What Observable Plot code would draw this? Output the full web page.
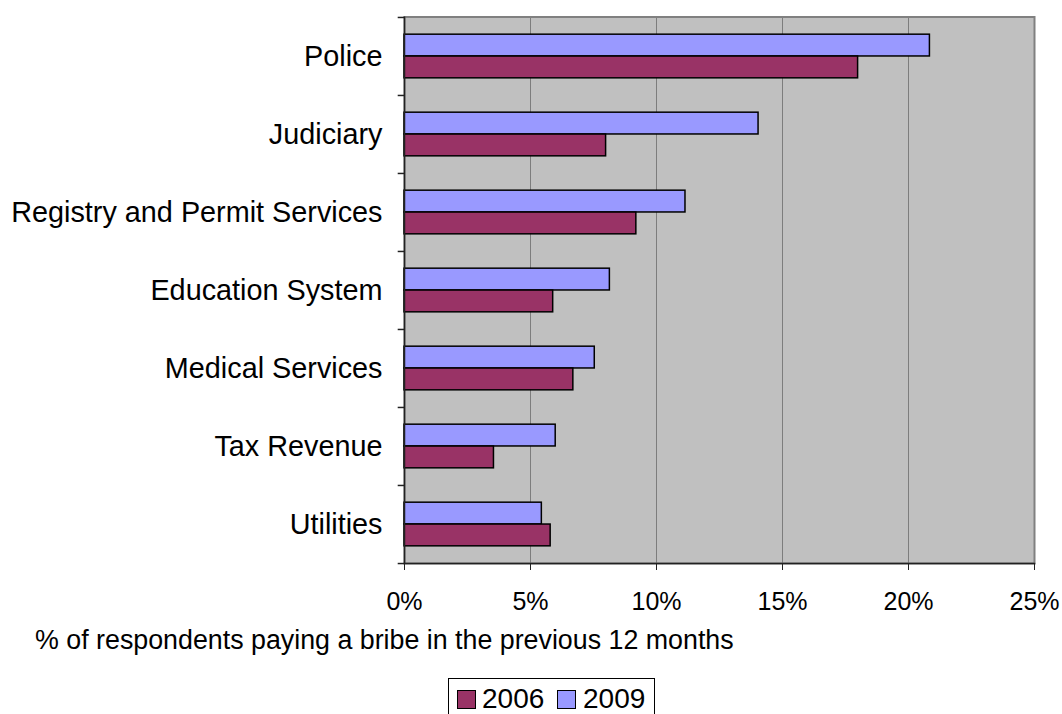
<!DOCTYPE html>
<html>
<head>
<meta charset="utf-8">
<script src="https://cdn.jsdelivr.net/npm/d3@7"></script>
<script src="https://cdn.jsdelivr.net/npm/@observablehq/plot@0.6"></script>
<style>
  html, body { margin: 0; padding: 0; background: white; overflow: hidden; }
  body { width: 1062px; height: 714px; position: relative; font-family: "Liberation Sans", Arial, sans-serif; }
  #chart { position: absolute; left: 0; top: 0; }
  .abs { position: absolute; line-height: 1; white-space: nowrap; color: #000; }
  .legend-box { position: absolute; border: 1px solid #000; box-sizing: border-box; background: white; }
  .swatch { position: absolute; border: 1px solid #000; box-sizing: border-box; }
</style>
</head>
<body>
<div id="chart"></div>
<div class="abs" id="xlabel" style="left:35px; top:627px; font-size:26.8px;"></div>
<div class="legend-box" style="left:448px; top:678px; width:207px; height:50px;"></div>
<div id="legend"></div>
<script>
// ---- data ----
const categories = ["Police", "Judiciary", "Registry and Permit Services", "Education System", "Medical Services", "Tax Revenue", "Utilities"];
const years = ["2006", "2009"];
const values2006 = [18.0, 8.0, 9.2, 5.9, 6.7, 3.55, 5.8];
const values2009 = [20.85, 14.05, 11.15, 8.15, 7.55, 6.0, 5.45];
const colors = ["#993366", "#9999ff"];
const xTicks = [0, 5, 10, 15, 20, 25];
const xTitle = "% of respondents paying a bribe in the previous 12 months";

const rows2006 = categories.map((c, i) => ({category: c, year: "2006", value: values2006[i]}));
const rows2009 = categories.map((c, i) => ({category: c, year: "2009", value: values2009[i]}));

// ---- layout ----
const W = 1062, H = 620;
const mTop = 16.5, mBottom = 57, mLeft = 404, mRight = 28;
const band = (H - mTop - mBottom) / categories.length;
const pad = band * 0.22;           // outer gap above/below the pair of bars
const half = band / 2;

const font = "'Liberation Sans', Arial, sans-serif";

const chart = Plot.plot({
  width: W,
  height: H,
  marginTop: mTop,
  marginBottom: mBottom,
  marginLeft: mLeft,
  marginRight: mRight,
  style: {fontFamily: font, background: "white", color: "#000", overflow: "visible"},
  x: {domain: [0, 25], label: null},
  y: {domain: categories, padding: 0, label: null},
  color: {domain: years, range: colors},
  marks: [
    Plot.frame({fill: "#c0c0c0"}),
    Plot.gridX({ticks: [5, 10, 15, 20], stroke: "#3a3a3a", strokeOpacity: 1, strokeDasharray: "1,1"}),
    Plot.frame({stroke: "#808080", strokeWidth: 2}),
    Plot.barX(rows2009, {y: "category", x: "value", fill: "year", stroke: "#000", strokeWidth: 1.5,
      insetTop: pad, insetBottom: band - half}),
    Plot.barX(rows2006, {y: "category", x: "value", fill: "year", stroke: "#000", strokeWidth: 1.5,
      insetTop: half, insetBottom: pad}),
    Plot.ruleX([0], {stroke: "#222", strokeWidth: 1.5}),
    Plot.frame({anchor: "bottom", stroke: "#222", strokeWidth: 1.5}),
    Plot.axisX({ticks: xTicks, tickFormat: d => d + "%", tickSize: 7, tickPadding: 22, fontSize: 25, stroke: "#222"}),
    Plot.axisY({tickSize: 0, tickPadding: 22, fontSize: 28.8}),
    // boundary tick marks between categories
    Plot.ruleY(categories, {y: d => d, x1: -0.25, x2: 0, dy: -half, stroke: "#222", strokeWidth: 1.5}),
    Plot.ruleY([categories[categories.length - 1]], {y: d => d, x1: -0.25, x2: 0, dy: half, stroke: "#222", strokeWidth: 1.5})
  ]
});
document.getElementById("chart").appendChild(chart);

document.getElementById("xlabel").textContent = xTitle;

// ---- legend ----
const legend = document.getElementById("legend");
const legendItems = [
  {label: years[0], color: colors[0], sx: 457, tx: 482},
  {label: years[1], color: colors[1], sx: 557, tx: 583}
];
for (const it of legendItems) {
  const sw = document.createElement("div");
  sw.className = "swatch";
  sw.style.cssText = `left:${it.sx}px; top:690px; width:19px; height:19px; background:${it.color};`;
  legend.appendChild(sw);
  const t = document.createElement("div");
  t.className = "abs";
  t.style.cssText = `left:${it.tx}px; top:685px; font-size:28px;`;
  t.textContent = it.label;
  legend.appendChild(t);
}
</script>
</body>
</html>
